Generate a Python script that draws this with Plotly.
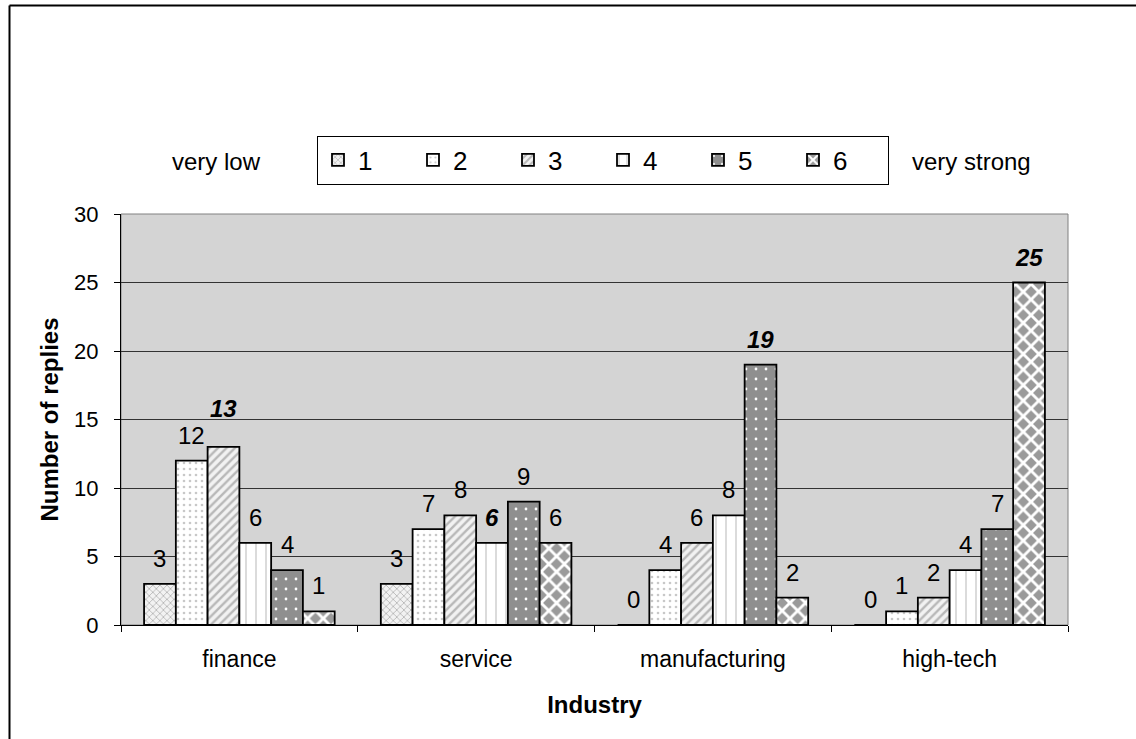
import plotly.graph_objects as go

industries = ["finance", "service", "manufacturing", "high-tech"]
levels = ["1", "2", "3", "4", "5", "6"]
# replies[level][industry]
replies = [
    [3, 3, 0, 0],
    [12, 7, 4, 1],
    [13, 8, 6, 2],
    [6, 6, 8, 4],
    [4, 9, 19, 7],
    [1, 6, 2, 25],
]
# labels shown bold italic (level index, industry index)
emphasis = [(2, 0), (3, 1), (4, 2), (5, 3)]
raised = [(2, 0)]

y_ticks = [0, 5, 10, 15, 20, 25, 30]

patterns = [
    dict(shape="x", bgcolor="#f2f2f2", fgcolor="#b4b4b4", size=5, solidity=0.3),
    dict(shape=".", bgcolor="#ffffff", fgcolor="#c8c8c8", size=6, solidity=0.15),
    dict(shape="/", bgcolor="#f2f2f2", fgcolor="#b8b8b8", size=6, solidity=0.4),
    dict(shape="|", bgcolor="#ffffff", fgcolor="#d0d0d0", size=10, solidity=0.15),
    dict(shape=".", bgcolor="#8f8f8f", fgcolor="#ffffff", size=10, solidity=0.06),
    dict(shape="x", bgcolor="#9a9a9a", fgcolor="#ffffff", size=11, solidity=0.45),
]

FONT = "Arial, Liberation Sans, sans-serif"

L, R, T, B = 121, 68, 214, 114
W, H = 1136, 739
PW, PH = W - L - R, H - T - B


def px(xp):
    return (xp - L) / PW


def py(yp):
    return (H - B - yp) / PH


fig = go.Figure()
for i, lev in enumerate(levels):
    fig.add_trace(go.Bar(
        name=lev,
        x=industries,
        y=replies[i],
        marker=dict(color=patterns[i]["bgcolor"],
                    line=dict(color="black", width=1.8),
                    pattern=dict(fillmode="replace", **patterns[i])),
    ))

bargap = 0.195
n = len(levels)
bw = (1 - bargap) / n
annotations = []
for i in range(n):
    for j, ind in enumerate(industries):
        v = replies[i][j]
        xpos = j - (1 - bargap) / 2 + (i + 0.5) * bw
        emph = (i, j) in emphasis
        txt = f"<b><i>{v}</i></b>" if emph else str(v)
        annotations.append(dict(
            x=xpos, y=v, xref="x", yref="y", text=txt, showarrow=False,
            yanchor="bottom", yshift=23 if (i, j) in raised else 10,
            font=dict(family=FONT, size=24, color="black"),
        ))

annotations.append(dict(x=px(216), y=py(161), xref="paper", yref="paper", text="very low",
                        showarrow=False, xanchor="center", yanchor="middle",
                        font=dict(family=FONT, size=24, color="black")))
annotations.append(dict(x=px(971), y=py(161), xref="paper", yref="paper", text="very strong",
                        showarrow=False, xanchor="center", yanchor="middle",
                        font=dict(family=FONT, size=24, color="black")))

fig.update_layout(
    width=W, height=H,
    margin=dict(l=L, r=R, t=T, b=B),
    paper_bgcolor="white",
    plot_bgcolor="#d4d4d4",
    barmode="group", bargap=bargap, bargroupgap=0,
    font=dict(family=FONT, size=22, color="black"),
    showlegend=True,
    legend=dict(orientation="h", x=px(317), y=py(160), xanchor="left", yanchor="middle",
                bgcolor="white", bordercolor="black", borderwidth=1,
                font=dict(family=FONT, size=26, color="black"),
                entrywidth=50, traceorder="normal"),
    annotations=annotations,
    shapes=[
        dict(type="line", xref="paper", yref="paper", x0=px(9.5), x1=px(9.5), y0=py(5.5), y1=py(760),
             line=dict(color="black", width=2)),
        dict(type="line", xref="paper", yref="paper", x0=px(9.5), x1=px(1160), y0=py(5.5), y1=py(5.5),
             line=dict(color="black", width=2)),
        dict(type="rect", xref="paper", yref="paper", x0=0, x1=1, y0=0, y1=1,
             line=dict(color="#808080", width=1), fillcolor="rgba(0,0,0,0)", layer="below"),
    ],
    xaxis=dict(
        title=dict(text="<b>Industry</b>", font=dict(family=FONT, size=24), standoff=25),
        showline=True, linecolor="black", linewidth=1,
        ticks="outside", tickson="boundaries", ticklen=6, tickcolor="black",
        ticklabelstandoff=13,
        tickfont=dict(family=FONT, size=23),
    ),
    yaxis=dict(
        title=dict(text="<b>Number of replies</b>", font=dict(family=FONT, size=24), standoff=8),
        range=[0, 30], tickvals=y_ticks, ticktext=[str(t) for t in y_ticks],
        showline=True, linecolor="black", linewidth=1,
        ticks="outside", ticklen=6, tickcolor="black",
        ticklabelstandoff=11,
        gridcolor="#333333", gridwidth=1, zeroline=False,
        tickfont=dict(family=FONT, size=22),
    ),
)

fig.write_html("out.html", config={"displayModeBar": False},
               post_script="document.body.style.margin='0';")
